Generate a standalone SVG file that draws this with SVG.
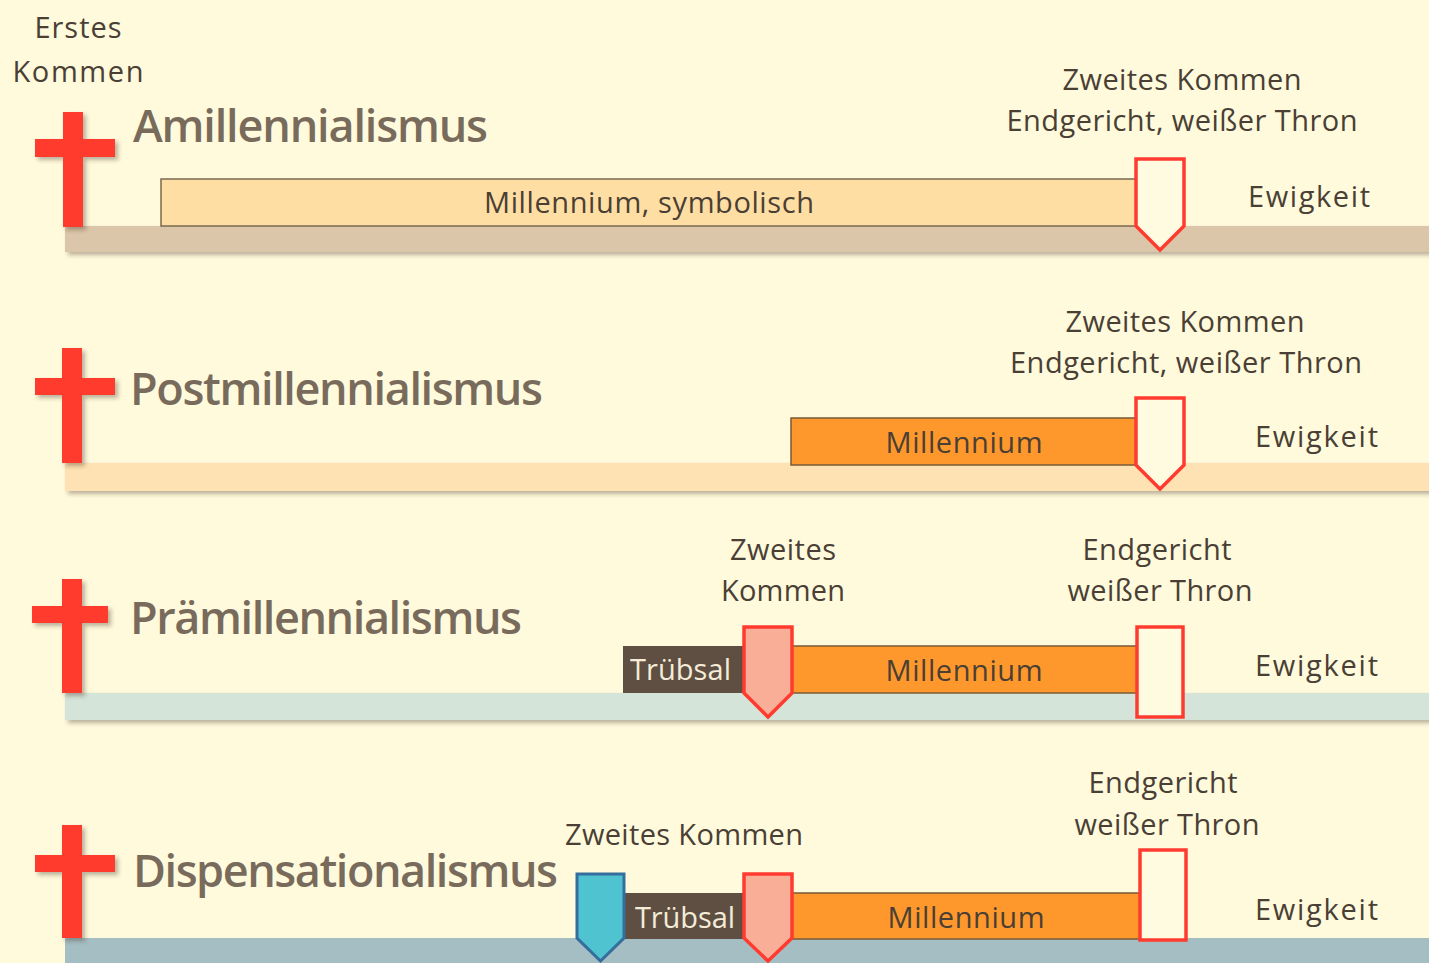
<svg xmlns="http://www.w3.org/2000/svg" width="1429" height="963" viewBox="0 0 1429 963">
<defs>
<filter id="sh" x="-10%" y="-10%" width="130%" height="140%">
<feDropShadow dx="3" dy="3" stdDeviation="2" flood-color="#3a2a1a" flood-opacity="0.35"/>
</filter>
<style>
.lbl{font-family:"Open Sans","Liberation Sans",sans-serif;font-size:29px;fill:#4a3f35}
.ttl{font-family:"Open Sans","Liberation Sans",sans-serif;font-size:45px;font-weight:600;fill:#786b5c}
.mid{text-anchor:middle}
.cross{fill:#ff3b2f}
.mil{fill:#ff982c;stroke:#7a5a36;stroke-width:1.5}
.sym{fill:#ffdea3;stroke:#7a6a50;stroke-width:1.5}
.trub{fill:#5e4f42}
.trubt{font-family:"Open Sans","Liberation Sans",sans-serif;font-size:29px;fill:#f4ecd8}
.wm{fill:#fffbe0;stroke:#ff3b30;stroke-width:3.5}
.pm{fill:#f9ae98;stroke:#ff3b30;stroke-width:3.5}
.bm{fill:#4fc3d0;stroke:#356e9c;stroke-width:3}
</style>
</defs>
<rect width="1429" height="963" fill="#fffadc"/>

<g id="erstes-kommen">
<text class="lbl mid" x="78" y="38" textLength="87">Erstes</text>
<text class="lbl mid" x="78" y="82" textLength="131">Kommen</text>
</g>

<g id="row-amill">
<rect x="65" y="226" width="1370" height="26" fill="#dcc6a9" filter="url(#sh)"/>
<g class="cross" filter="url(#sh)"><rect x="63" y="112" width="20" height="115"/><rect x="35" y="139" width="80" height="18"/></g>
<text class="ttl" x="133" y="142" textLength="355">Amillennialismus</text>
<rect class="sym" x="161" y="179" width="976" height="47"/>
<text class="lbl mid" x="649" y="213" textLength="330">Millennium, symbolisch</text>
<path class="wm" d="M1136,159 H1184 V226 L1160,250 L1136,226 Z"/>
<text class="lbl mid" x="1182" y="90" textLength="239">Zweites Kommen</text>
<text class="lbl mid" x="1182" y="131" textLength="351">Endgericht, weißer Thron</text>
<text class="lbl" x="1248" y="207" textLength="122">Ewigkeit</text>
</g>

<g id="row-postmill">
<rect x="65" y="463" width="1370" height="28" fill="#ffe2b3" filter="url(#sh)"/>
<g class="cross" filter="url(#sh)"><rect x="62" y="348" width="20" height="115"/><rect x="35" y="378" width="80" height="17"/></g>
<text class="ttl" x="130" y="405" textLength="413">Postmillennialismus</text>
<rect class="mil" x="791" y="418" width="346" height="47"/>
<text class="lbl mid" x="964" y="453" textLength="157">Millennium</text>
<path class="wm" d="M1136,398 H1184 V465 L1160,489 L1136,465 Z"/>
<text class="lbl mid" x="1185" y="332" textLength="239">Zweites Kommen</text>
<text class="lbl mid" x="1186" y="373" textLength="352">Endgericht, weißer Thron</text>
<text class="lbl" x="1255" y="447" textLength="123">Ewigkeit</text>
</g>

<g id="row-premill">
<rect x="65" y="693" width="1370" height="27" fill="#d5e4d8" filter="url(#sh)"/>
<g class="cross" filter="url(#sh)"><rect x="62" y="579" width="20" height="114"/><rect x="32" y="606" width="76" height="17"/></g>
<text class="ttl" x="130" y="634" textLength="392">Prämillennialismus</text>
<rect class="trub" x="623" y="646" width="122" height="47"/>
<text class="trubt" x="630" y="680" textLength="101">Trübsal</text>
<rect class="mil" x="792" y="646" width="345" height="47"/>
<text class="lbl mid" x="964" y="681" textLength="157">Millennium</text>
<path class="pm" d="M744,627 H792 V693 L768,717 L744,693 Z"/>
<rect class="wm" x="1137" y="627" width="46" height="90"/>
<text class="lbl mid" x="783" y="560" textLength="106">Zweites</text>
<text class="lbl mid" x="783" y="601" textLength="124">Kommen</text>
<text class="lbl mid" x="1157" y="560" textLength="149">Endgericht</text>
<text class="lbl mid" x="1160" y="601" textLength="185">weißer Thron</text>
<text class="lbl" x="1255" y="676" textLength="123">Ewigkeit</text>
</g>

<g id="row-disp">
<rect x="65" y="938" width="1370" height="30" fill="#a4bec4"/>
<g class="cross" filter="url(#sh)"><rect x="62" y="825" width="20" height="113"/><rect x="35" y="855" width="80" height="17"/></g>
<text class="ttl" x="133" y="887" textLength="425">Dispensationalismus</text>
<rect class="trub" x="624" y="893" width="121" height="46"/>
<text class="trubt" x="635" y="928" textLength="100">Trübsal</text>
<rect class="mil" x="792" y="893" width="348" height="46"/>
<text class="lbl mid" x="966" y="928" textLength="157">Millennium</text>
<path class="bm" d="M577,874 H624 V938 L600.5,961 L577,938 Z"/>
<path class="pm" d="M744,874 H792 V938 L768,961 L744,938 Z"/>
<rect class="wm" x="1140" y="850" width="46" height="90"/>
<text class="lbl mid" x="684" y="845" textLength="238">Zweites Kommen</text>
<text class="lbl mid" x="1163" y="793" textLength="149">Endgericht</text>
<text class="lbl mid" x="1167" y="835" textLength="185">weißer Thron</text>
<text class="lbl" x="1255" y="920" textLength="123">Ewigkeit</text>
</g>
</svg>
